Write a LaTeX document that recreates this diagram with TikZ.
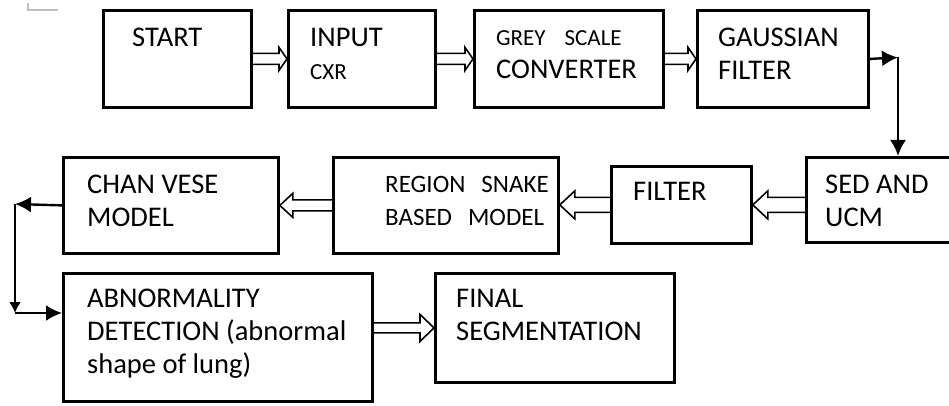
\documentclass[tikz,border=0pt]{standalone}
\usepackage{fontspec}
\setmainfont{Carlito}
\usetikzlibrary{calc,arrows.meta}

\newcommand{\bodysz}{\fontsize{28.5}{33}\selectfont}
\newcommand{\midsz}{\fontsize{25}{33}\selectfont}
\newcommand{\smallsz}{\fontsize{23}{33}\selectfont}

\tikzset{
    block/.style 2 args={draw, line width=2.8pt, rectangle, inner sep=0pt, anchor=north west, minimum width=#1pt, minimum height=#2pt},
    lbl/.style={anchor=north west, inner sep=0pt, align=left, font=\bodysz},
    flow/.style={line width=2.4pt, -{Latex[length=16pt,width=16pt]}},
    hollow/.style n args={3}{line width=1.6pt, to path={
        let \p1=(\tikztostart), \p2=(\tikztotarget), \n1={sign(\x2-\x1)} in
        (\x1,{\y1+#1pt}) -- ({\x2-\n1*#3pt},{\y1+#1pt}) -- ({\x2-\n1*#3pt},{\y1+#2pt}) -- (\x2,\y1)
        -- ({\x2-\n1*#3pt},{\y1-#2pt}) -- ({\x2-\n1*#3pt},{\y1-#1pt}) -- (\x1,{\y1-#1pt})}}
}

\begin{document}
\begin{tikzpicture}[x=1pt, y=-1pt]
    \useasboundingbox[fill=white] (0,0) rectangle (949,406);
    \draw[black!25, line width=1.2pt] (28,3) -- (28,10) -- (58,10);

    % top row
    \node[block={148}{97}] (start) at (102,9) {};
    \node[block={147}{97}] (input) at (287,9) {};
    \node[block={189}{97}] (grey) at (473,9) {};
    \node[block={171}{97}] (gauss) at (696,9) {};
    \node[lbl] (startT) at (132,23) {\strut START};
    \node[lbl] (inputT) at (310,23) {\strut INPUT\\{\smallsz CXR}};
    \node[lbl] (greyT) at (496,21.8) {\strut{\smallsz GREY\hspace{19pt}SCALE}\\CONVERTER};
    \node[lbl] (gaussT) at (718,23) {\strut GAUSSIAN\\FILTER};

    % middle row
    \node[block={215}{96}] (chan) at (62,156) {};
    \node[block={225}{96}] (region) at (332,156) {};
    \node[block={140}{77}] (filter) at (610,165) {};
    \node[block={160}{85}] (sed) at (805,156) {};
    \node[lbl] (chanT) at (87,170.5) {\strut CHAN VESE\\MODEL};
    \node[lbl, font=\midsz] (regionT) at (385,169.5) {\strut REGION\hspace{16pt}SNAKE\\BASED\hspace{16pt}MODEL};
    \node[lbl] (filterT) at (633,177.5) {\strut FILTER};
    \node[lbl] (sedT) at (825,170.5) {\strut SED AND\\UCM};

    % bottom row
    \node[block={309}{128}] (abn) at (62,272) {};
    \node[block={239}{109}] (final) at (434,272) {};
    \node[lbl] (abnT) at (87,284) {\strut ABNORMALITY\\DETECTION (abnormal\\shape of lung)};
    \node[lbl] (finalT) at (456,284) {\strut FINAL\\SEGMENTATION};

    \draw[hollow={5.5}{11.5}{8}] (start.east) to (input.west);
    \draw[hollow={5.5}{11.5}{8}] (input.east) to (grey.west);
    \draw[hollow={5.5}{11.5}{8}] (grey.east) to (gauss.west);
    \draw[hollow={7.5}{14}{15}] (sed.west |- filter.west) to (filter.east);
    \draw[hollow={7.5}{14}{15}] (filter.west) to (region.east |- filter.west);
    \draw[hollow={5.5}{12}{13}] (region.west) to (chan.east);
    \draw[hollow={5}{13.5}{14}] (abn.east |- final.west) to (final.west);

    \coordinate (bend) at (898,57.5);
    \coordinate (lefttop) at (15,204);
    \coordinate (leftbot) at (15,313);
    \draw[flow] (gauss.east) -- (bend);
    \draw[flow] (bend) -- (bend |- sed.north);
    \draw[flow] (chan.west) -- (lefttop);
    \draw[line width=2.4pt, -{Latex[length=11pt,width=12pt]}] (lefttop) -- (leftbot);
    \draw[flow] (leftbot) -- (abn.west |- leftbot);
\end{tikzpicture}
\end{document}
